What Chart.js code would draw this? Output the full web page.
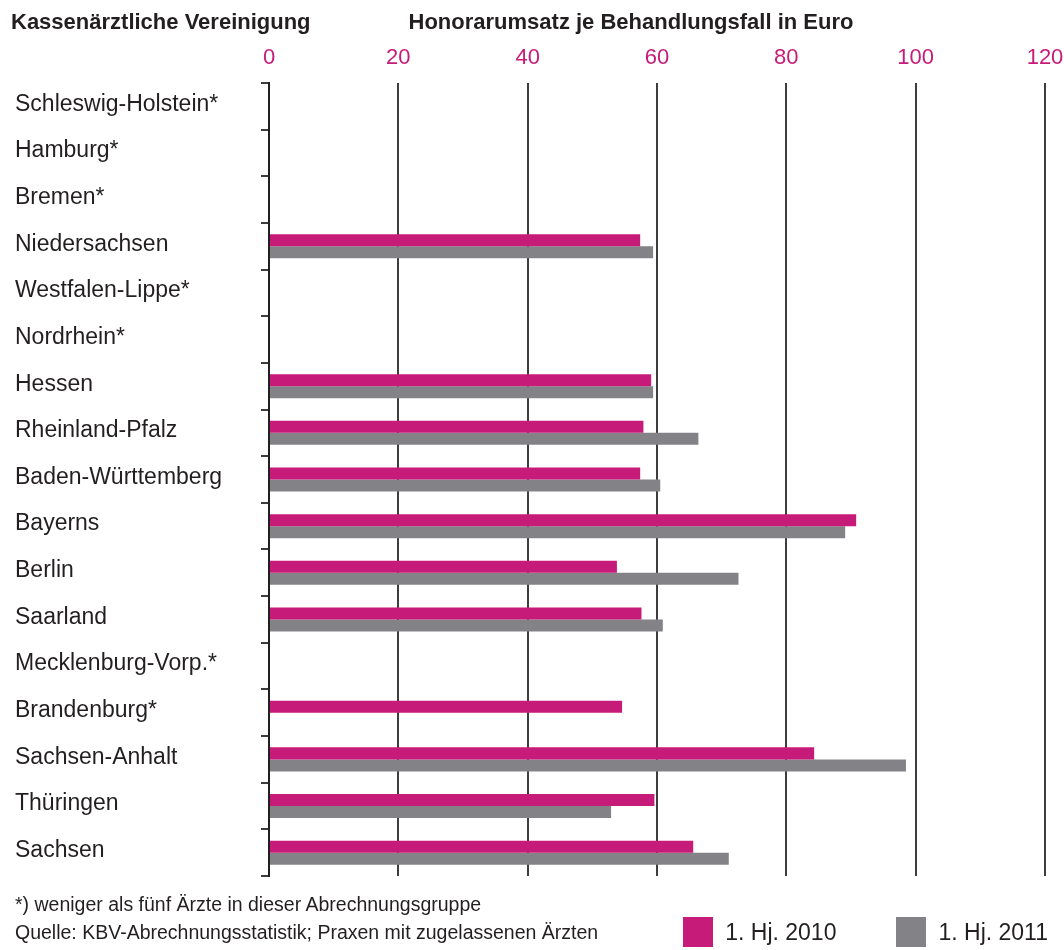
<!DOCTYPE html>
<html lang="de">
<head>
<meta charset="utf-8">
<title>Honorarumsatz je Behandlungsfall</title>
<script src="https://cdn.jsdelivr.net/npm/chart.js@4/dist/chart.umd.min.js"></script>
<style>
    html, body {
        margin: 0;
        padding: 0;
        background: #fff;
    }
    .wrap {
        position: relative;
        width: 1064px;
        height: 950px;
        font-family: "Liberation Sans", Arial, sans-serif;
        color: #231f20;
    }
    .wrap canvas {
        position: absolute;
        left: 0;
        top: 0;
    }
    .head {
        position: absolute;
        top: 9px;
        font-weight: bold;
        font-size: 22px;
        white-space: nowrap;
    }
    .head.left { left: 11px; }
    .head.axis { left: 631px; transform: translateX(-50%); }
    .note {
        position: absolute;
        left: 15px;
        font-size: 19.5px;
        white-space: nowrap;
    }
    .legend {
        position: absolute;
        right: 16px;
        top: 917px;
        display: flex;
        gap: 60px;
        font-size: 23px;
    }
    .legend .item {
        display: flex;
        align-items: center;
        gap: 12px;
        height: 30px;
    }
    .legend .swatch {
        width: 30px;
        height: 30px;
    }
</style>
</head>
<body>
<div class="wrap">
    <canvas id="honorarChart" width="1064" height="950"></canvas>
    <div class="head left">Kassenärztliche Vereinigung</div>
    <div class="head axis">Honorarumsatz je Behandlungsfall in Euro</div>
    <div class="note" style="top: 893px;">*) weniger als fünf Ärzte in dieser Abrechnungsgruppe</div>
    <div class="note" style="top: 921px;">Quelle: KBV-Abrechnungsstatistik; Praxen mit zugelassenen Ärzten</div>
    <div class="legend" id="legend"></div>
</div>
<script>
// KV-Bezirke, * = weniger als fünf Ärzte
const regions = [
    'Schleswig-Holstein*', 'Hamburg*', 'Bremen*', 'Niedersachsen',
    'Westfalen-Lippe*', 'Nordrhein*', 'Hessen', 'Rheinland-Pfalz',
    'Baden-Württemberg', 'Bayerns', 'Berlin', 'Saarland',
    'Mecklenburg-Vorp.*', 'Brandenburg*', 'Sachsen-Anhalt', 'Thüringen', 'Sachsen'
];

// Euro je Behandlungsfall
const hj2010 = [null, null, null, 57.4, null, null, 59.1, 57.9, 57.4, 90.8, 53.8, 57.6, null, 54.6, 84.3, 59.6, 65.6];
const hj2011 = [null, null, null, 59.4, null, null, 59.4, 66.4, 60.5, 89.1, 72.6, 60.9, null, null, 98.5, 52.9, 71.1];

const seriesNames = ['1. Hj. 2010', '1. Hj. 2011'];
const xTicks = [0, 20, 40, 60, 80, 100, 120];

const PINK = '#c71b79';
const GREY = '#838387';
const INK = '#231f20';
const FONT = '"Liberation Sans", Arial, sans-serif';

const ctx = document.getElementById('honorarChart');

const chart = new Chart(ctx, {
    type: 'bar',
    data: {
        labels: regions,
        datasets: [
            { label: seriesNames[0], data: hj2010, backgroundColor: PINK },
            { label: seriesNames[1], data: hj2011, backgroundColor: GREY }
        ]
    },
    options: {
        indexAxis: 'y',
        responsive: false,
        animation: false,
        datasets: {
            bar: {
                categoryPercentage: 0.515,
                barPercentage: 1,
                borderWidth: 0
            }
        },
        layout: {
            padding: { left: 15, right: 19, top: 0, bottom: 74 }
        },
        scales: {
            x: {
                position: 'top',
                min: 0,
                max: 120,
                afterBuildTicks: (axis) => {
                    axis.ticks = xTicks.map(v => ({ value: v }));
                },
                afterFit: (axis) => {
                    axis.height = 83;
                    // labels may hang over the plot edges
                    axis.paddingLeft = 0;
                    axis.paddingRight = 0;
                },
                border: { display: false },
                grid: {
                    drawTicks: false,
                    color: (c) => c.tick && c.tick.value === 0 ? 'rgba(0,0,0,0)' : '#3d3d3d',
                    lineWidth: 2
                },
                ticks: {
                    color: PINK,
                    padding: 12,
                    font: { family: FONT, size: 22 }
                }
            },
            y: {
                afterFit: (axis) => {
                    axis.width = 254;
                },
                border: { display: true, color: '#231f20', width: 2 },
                grid: {
                    offset: true,
                    drawOnChartArea: false,
                    drawTicks: true,
                    tickLength: 8,
                    color: '#3d3d3d',
                    lineWidth: 2
                },
                ticks: {
                    crossAlign: 'far',
                    labelOffset: -2,
                    color: INK,
                    font: { family: FONT, size: 23 }
                }
            }
        },
        plugins: {
            legend: { display: false },
            tooltip: { enabled: false }
        }
    }
});

// legend below the plot, taken from the datasets
const legendEl = document.getElementById('legend');
chart.data.datasets.forEach(ds => {
    const item = document.createElement('div');
    item.className = 'item';
    const swatch = document.createElement('span');
    swatch.className = 'swatch';
    swatch.style.background = ds.backgroundColor;
    const text = document.createElement('span');
    text.textContent = ds.label;
    item.append(swatch, text);
    legendEl.append(item);
});
</script>
</body>
</html>
